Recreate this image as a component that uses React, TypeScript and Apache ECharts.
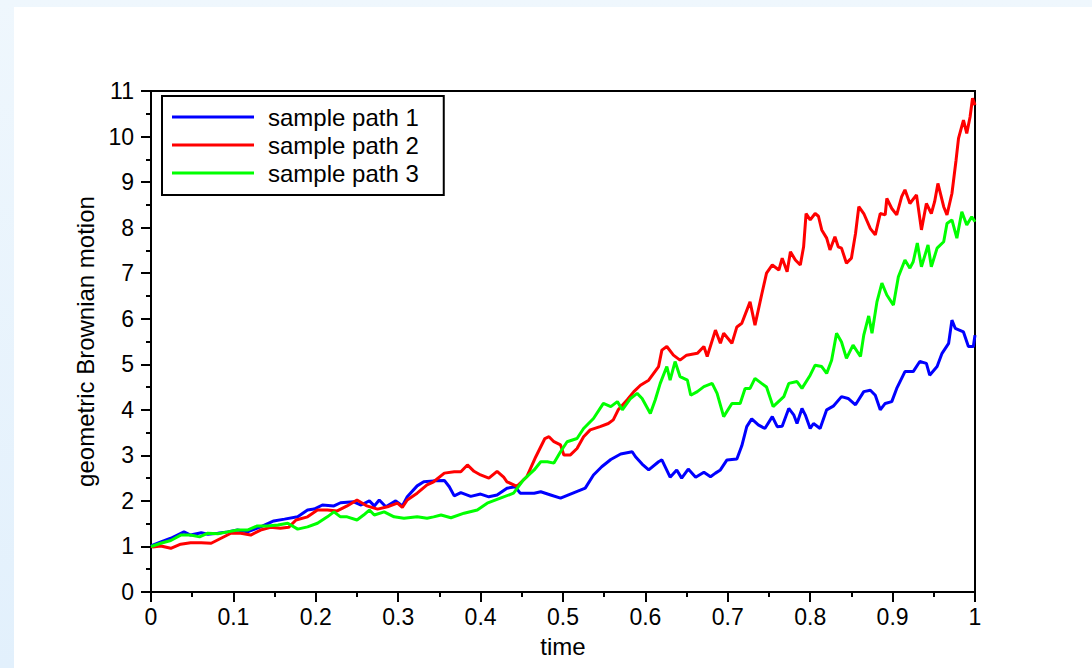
import React, { useEffect, useRef } from "react";
import * as echarts from "echarts";

// Simulated geometric Brownian motion paths: [time, value]
const path1: [number, number][] = [
  [0, 1.0], [0.002, 1.03], [0.012, 1.1], [0.024, 1.18], [0.04, 1.32], [0.048, 1.25], [0.061, 1.3],
  [0.069, 1.27], [0.081, 1.29], [0.093, 1.32], [0.105, 1.36], [0.117, 1.32], [0.133, 1.43],
  [0.149, 1.56], [0.162, 1.6], [0.178, 1.65], [0.19, 1.8], [0.198, 1.82], [0.208, 1.91],
  [0.222, 1.89], [0.23, 1.96], [0.246, 1.98], [0.255, 1.91], [0.265, 2.0], [0.271, 1.89],
  [0.277, 2.02], [0.285, 1.87], [0.297, 2.0], [0.305, 1.89], [0.311, 2.09], [0.323, 2.33],
  [0.331, 2.42], [0.343, 2.44], [0.356, 2.45], [0.362, 2.31], [0.368, 2.11], [0.376, 2.18],
  [0.388, 2.1], [0.4, 2.15], [0.41, 2.09], [0.42, 2.13], [0.432, 2.28], [0.442, 2.31],
  [0.448, 2.17], [0.465, 2.17], [0.473, 2.2], [0.485, 2.13], [0.497, 2.06], [0.509, 2.15],
  [0.527, 2.28], [0.537, 2.57], [0.547, 2.75], [0.558, 2.91], [0.57, 3.03], [0.584, 3.08],
  [0.588, 2.97], [0.596, 2.81], [0.604, 2.68], [0.616, 2.86], [0.62, 2.9], [0.63, 2.52],
  [0.638, 2.68], [0.644, 2.5], [0.652, 2.7], [0.661, 2.52], [0.671, 2.63], [0.679, 2.53],
  [0.685, 2.61], [0.691, 2.68], [0.699, 2.9], [0.711, 2.92], [0.717, 3.21], [0.723, 3.63],
  [0.729, 3.8], [0.737, 3.67], [0.745, 3.59], [0.754, 3.85], [0.76, 3.63], [0.766, 3.64],
  [0.774, 4.03], [0.78, 3.89], [0.784, 3.7], [0.79, 4.03], [0.794, 3.89], [0.8, 3.59],
  [0.804, 3.7], [0.812, 3.59], [0.82, 4.0], [0.828, 4.08], [0.838, 4.29], [0.846, 4.25],
  [0.855, 4.11], [0.865, 4.4], [0.873, 4.43], [0.879, 4.32], [0.885, 4.0], [0.891, 4.14],
  [0.899, 4.18], [0.905, 4.47], [0.915, 4.84], [0.925, 4.84], [0.933, 5.06], [0.941, 5.02],
  [0.945, 4.76], [0.954, 4.95], [0.96, 5.24], [0.968, 5.46], [0.972, 5.97], [0.976, 5.79],
  [0.986, 5.71], [0.992, 5.39], [0.998, 5.39], [1.0, 5.64],
];

const path2: [number, number][] = [
  [0, 1.0], [0.002, 0.99], [0.012, 1.01], [0.024, 0.96], [0.036, 1.05], [0.048, 1.08], [0.061, 1.08],
  [0.073, 1.07], [0.085, 1.18], [0.097, 1.29], [0.109, 1.29], [0.121, 1.25], [0.133, 1.36],
  [0.145, 1.42], [0.157, 1.4], [0.167, 1.42], [0.176, 1.58], [0.19, 1.65], [0.202, 1.8],
  [0.214, 1.8], [0.226, 1.78], [0.238, 1.89], [0.25, 2.02], [0.262, 1.89], [0.275, 1.82],
  [0.287, 1.87], [0.299, 1.95], [0.305, 1.86], [0.311, 2.02], [0.323, 2.17], [0.335, 2.35],
  [0.343, 2.42], [0.356, 2.61], [0.368, 2.64], [0.376, 2.64], [0.384, 2.79], [0.392, 2.65],
  [0.4, 2.57], [0.41, 2.5], [0.42, 2.65], [0.428, 2.52], [0.432, 2.42], [0.444, 2.32],
  [0.456, 2.53], [0.467, 2.97], [0.478, 3.37], [0.483, 3.41], [0.489, 3.3], [0.497, 3.23],
  [0.501, 3.01], [0.509, 3.01], [0.517, 3.15], [0.525, 3.41], [0.533, 3.56], [0.545, 3.63],
  [0.555, 3.7], [0.561, 3.78], [0.567, 4.0], [0.578, 4.22], [0.586, 4.4], [0.594, 4.54],
  [0.604, 4.65], [0.61, 4.8], [0.616, 4.95], [0.62, 5.31], [0.626, 5.39], [0.634, 5.2],
  [0.642, 5.09], [0.65, 5.2], [0.663, 5.24], [0.671, 5.39], [0.675, 5.17], [0.685, 5.75],
  [0.691, 5.46], [0.695, 5.68], [0.705, 5.46], [0.711, 5.82], [0.717, 5.9], [0.727, 6.37],
  [0.733, 5.86], [0.741, 6.52], [0.747, 7.0], [0.754, 7.18], [0.762, 7.07], [0.766, 7.33],
  [0.772, 7.03], [0.776, 7.47], [0.782, 7.29], [0.788, 7.18], [0.792, 7.58], [0.795, 8.31],
  [0.8, 8.17], [0.806, 8.31], [0.81, 8.25], [0.814, 7.95], [0.82, 7.77], [0.824, 7.51],
  [0.83, 7.8], [0.834, 7.58], [0.838, 7.55], [0.844, 7.22], [0.85, 7.33], [0.855, 7.87],
  [0.859, 8.46], [0.865, 8.31], [0.873, 7.98], [0.879, 7.84], [0.885, 8.31], [0.891, 8.28],
  [0.893, 8.64], [0.899, 8.42], [0.905, 8.28], [0.911, 8.68], [0.915, 8.83], [0.921, 8.53],
  [0.929, 8.72], [0.935, 7.95], [0.941, 8.53], [0.947, 8.31], [0.951, 8.57], [0.955, 8.97],
  [0.962, 8.46], [0.966, 8.28], [0.972, 8.75], [0.977, 9.48], [0.98, 9.96], [0.986, 10.36],
  [0.99, 10.07], [0.994, 10.43], [0.997, 10.84], [1.0, 10.69],
];

const path3: [number, number][] = [
  [0, 1.0], [0.002, 1.01], [0.012, 1.07], [0.024, 1.13], [0.036, 1.25], [0.048, 1.25], [0.059, 1.21],
  [0.069, 1.29], [0.081, 1.28], [0.093, 1.32], [0.105, 1.36], [0.117, 1.36], [0.129, 1.45],
  [0.141, 1.45], [0.154, 1.47], [0.166, 1.51], [0.178, 1.38], [0.19, 1.43], [0.202, 1.51],
  [0.214, 1.65], [0.222, 1.76], [0.23, 1.65], [0.238, 1.65], [0.25, 1.58], [0.258, 1.69],
  [0.265, 1.8], [0.271, 1.69], [0.283, 1.76], [0.295, 1.65], [0.307, 1.62], [0.323, 1.65],
  [0.335, 1.62], [0.343, 1.65], [0.352, 1.69], [0.364, 1.63], [0.38, 1.73], [0.396, 1.8],
  [0.408, 1.95], [0.424, 2.06], [0.44, 2.17], [0.452, 2.46], [0.465, 2.68], [0.473, 2.86],
  [0.481, 2.86], [0.489, 2.83], [0.497, 3.08], [0.505, 3.3], [0.517, 3.37], [0.525, 3.59],
  [0.537, 3.81], [0.549, 4.14], [0.558, 4.07], [0.566, 4.18], [0.572, 4.0], [0.582, 4.25],
  [0.59, 4.36], [0.596, 4.25], [0.606, 3.92], [0.612, 4.22], [0.618, 4.58], [0.626, 4.95],
  [0.63, 4.65], [0.636, 5.06], [0.642, 4.73], [0.651, 4.65], [0.655, 4.32], [0.663, 4.4],
  [0.671, 4.51], [0.681, 4.58], [0.687, 4.36], [0.695, 3.85], [0.705, 4.14], [0.715, 4.14],
  [0.721, 4.47], [0.727, 4.47], [0.733, 4.69], [0.741, 4.58], [0.747, 4.5], [0.755, 4.07],
  [0.768, 4.29], [0.774, 4.58], [0.784, 4.62], [0.79, 4.47], [0.8, 4.76], [0.806, 4.98],
  [0.814, 4.95], [0.82, 4.8], [0.826, 5.09], [0.832, 5.68], [0.838, 5.49], [0.844, 5.13],
  [0.852, 5.42], [0.861, 5.17], [0.865, 5.64], [0.871, 6.06], [0.875, 5.68], [0.881, 6.37],
  [0.887, 6.78], [0.893, 6.52], [0.901, 6.3], [0.907, 6.92], [0.915, 7.29], [0.921, 7.11],
  [0.925, 7.25], [0.93, 7.66], [0.935, 7.14], [0.943, 7.62], [0.947, 7.14], [0.954, 7.55],
  [0.962, 7.69], [0.966, 8.09], [0.972, 8.17], [0.978, 7.77], [0.984, 8.35], [0.99, 8.06],
  [0.996, 8.24], [1.0, 8.13],
];

const seriesNames = ["sample path 1", "sample path 2", "sample path 3"];
const seriesColors = ["#0000ff", "#ff0000", "#00ff00"];
const seriesData = [path1, path2, path3];

const FONT = "'Liberation Sans', Arial, Helvetica, sans-serif";

export default function App() {
  const ref = useRef<HTMLDivElement>(null);

  useEffect(() => {
    if (!ref.current) return;
    const chart = echarts.init(ref.current, undefined, { renderer: "svg" });

    const axisStroke = { color: "#000", width: 2 };

    chart.setOption({
      animation: false,
      backgroundColor: "transparent",
      textStyle: { fontFamily: FONT, color: "#000" },
      grid: {
        left: 151,
        right: 117,
        top: 91,
        bottom: 76,
        show: true,
        borderColor: "#000",
        borderWidth: 2,
        backgroundColor: "transparent",
      },
      legend: {
        orient: "vertical",
        left: 162,
        top: 96,
        data: seriesNames.map((name) => ({ name, icon: "rect" })),
        itemWidth: 82,
        itemHeight: 3,
        itemGap: 4,
        padding: [9, 25, 10, 10],
        borderColor: "#000",
        borderWidth: 2,
        backgroundColor: "#fff",
        itemStyle: { borderWidth: 0 },
        textStyle: {
          fontFamily: FONT,
          fontSize: 24,
          color: "#000",
          padding: [0, 0, 0, 9],
        },
      },
      xAxis: {
        type: "value",
        min: 0,
        max: 1,
        interval: 0.1,
        name: "time",
        nameLocation: "middle",
        nameGap: 42,
        nameTextStyle: { fontFamily: FONT, fontSize: 24, color: "#000" },
        splitLine: { show: false },
        axisLine: { show: true, onZero: false, lineStyle: axisStroke },
        axisTick: { show: true, inside: false, length: 10, lineStyle: axisStroke },
        minorTick: { show: true, splitNumber: 2, length: 5, lineStyle: axisStroke },
        axisLabel: { fontFamily: FONT, fontSize: 23, color: "#000", margin: 13 },
      },
      yAxis: {
        type: "value",
        min: 0,
        max: 11,
        interval: 1,
        name: "geometric Brownian motion",
        nameLocation: "middle",
        nameGap: 53,
        nameTextStyle: { fontFamily: FONT, fontSize: 24, color: "#000" },
        splitLine: { show: false },
        axisLine: { show: true, onZero: false, lineStyle: axisStroke },
        axisTick: { show: true, inside: false, length: 10, lineStyle: axisStroke },
        minorTick: { show: true, splitNumber: 2, length: 5, lineStyle: axisStroke },
        axisLabel: { fontFamily: FONT, fontSize: 23, color: "#000", margin: 17 },
      },
      series: seriesData.map((data, i) => ({
        name: seriesNames[i],
        type: "line",
        data,
        symbol: "none",
        showSymbol: false,
        clip: true,
        color: seriesColors[i],
        lineStyle: { color: seriesColors[i], width: 3 },
        emphasis: { disabled: true },
      })),
    });

    return () => chart.dispose();
  }, []);

  return (
    <div
      style={{
        position: "fixed",
        left: 0,
        top: 0,
        width: 1092,
        height: 668,
        background: "linear-gradient(to bottom, #eff7fd, #e2f0fc)",
      }}
    >
      <div
        style={{
          position: "absolute",
          left: 14,
          top: 7,
          right: 0,
          bottom: 0,
          background: "#fff",
        }}
      />
      <div
        ref={ref}
        style={{ position: "absolute", left: 0, top: 0, width: 1092, height: 668 }}
      />
    </div>
  );
}
